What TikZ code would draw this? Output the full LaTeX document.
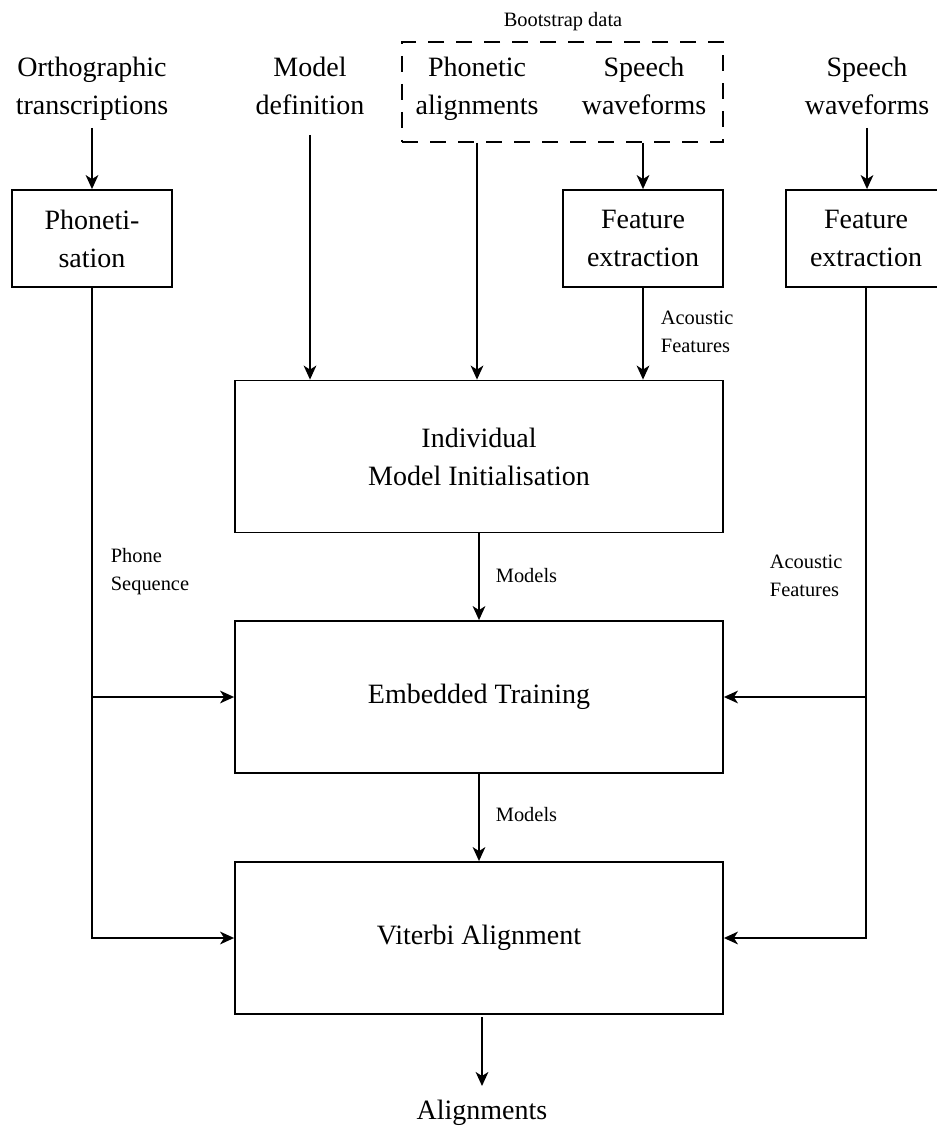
\documentclass[tikz,border=0pt]{standalone}
\usepackage{fontspec}
\setmainfont{Liberation Serif}
\usetikzlibrary{arrows.meta}
\begin{document}
\begin{tikzpicture}[x=0.75pt,y=-0.75pt,
  line width=1.35pt,
  arr/.style={-{Stealth[length=10.5pt,width=9.5pt,inset=3pt]}},
  bigfont/.style={font=\fontsize{21pt}{28.5pt}\selectfont},
  smallfont/.style={font=\fontsize{15.3pt}{21pt}\selectfont},
  txt/.style={bigfont,align=center,inner sep=0pt},
  lbl/.style={smallfont,align=left,inner sep=0pt,anchor=west},
  smallbox/.style={draw,bigfont,align=center,minimum width=120pt,minimum height=72.75pt,inner sep=0pt},
  bigbox/.style={draw,bigfont,align=center,minimum width=366pt,minimum height=114pt,inner sep=0pt}]
\useasboundingbox (0,0) rectangle (936,1126);

% inputs along the top
\node[txt] (ortho) at (92,89) {Orthographic\\transcriptions};
\node[txt] (mdef) at (310,86) {Model\\definition};
\node[draw,dashed,dash pattern=on 12pt off 9pt,minimum width=240.75pt,minimum height=75pt] (boot) at (562.5,92) {};
\node[smallfont,inner sep=0pt] (bootlbl) at (563,22) {Bootstrap data};
\node[txt] (palign) at (477,89) {Phonetic\\alignments};
\node[txt] (swave) at (644,86) {Speech\\waveforms};
\node[txt] (swave2) at (867,86) {Speech\\waveforms};

% processing boxes
\node[smallbox] (phon) at (92,238.5) {Phoneti-\\sation};
\node[smallbox] (fext) at (643,238.5) {Feature\\extraction};
\node[smallbox] (fext2) at (866,238.5) {Feature\\extraction};
\node[bigbox] (init) at (479,456.5) {Individual\\Model Initialisation};
\node[bigbox] (emb) at (479,697) {Embedded Training};
\node[bigbox] (vit) at (479,938) {Viterbi Alignment};
\node[txt] (align) at (482,1113) {Alignments};

% connector labels
\node[lbl] (afl) at (660,332) {Acoustic\\Features};
\node[lbl] (psl) at (110,572) {Phone\\Sequence};
\node[lbl] (afr) at (769,576) {Acoustic\\Features};
\node[lbl] (m1) at (495,576) {Models};
\node[lbl] (m2) at (495,815) {Models};

% free ends of the connectors
\coordinate (o0) at (92,128);
\coordinate (d0) at (310,135);
\coordinate (s0) at (867,128);
\coordinate (v0) at (482,1017);
\coordinate (a0) at (482,1086);

% connectors
\draw[arr] (o0) -- (o0 |- phon.north);
\draw[arr] (d0) -- (d0 |- init.north);
\draw[arr] (palign |- boot.south) -- (palign |- init.north);
\draw[arr] (fext.north |- boot.south) -- (fext.north);
\draw[arr] (s0) -- (s0 |- fext2.north);
\draw[arr] (fext.south) -- (fext.south |- init.north);
\draw[arr] (init.south) -- (emb.north);
\draw[arr] (emb.south) -- (vit.north);
\draw[arr] (v0) -- (a0);
\draw[arr] (phon.south) |- (emb.west);
\draw[arr] (phon.south) |- (vit.west);
\draw[arr] (fext2.south) |- (emb.east);
\draw[arr] (fext2.south) |- (vit.east);
\end{tikzpicture}
\end{document}
